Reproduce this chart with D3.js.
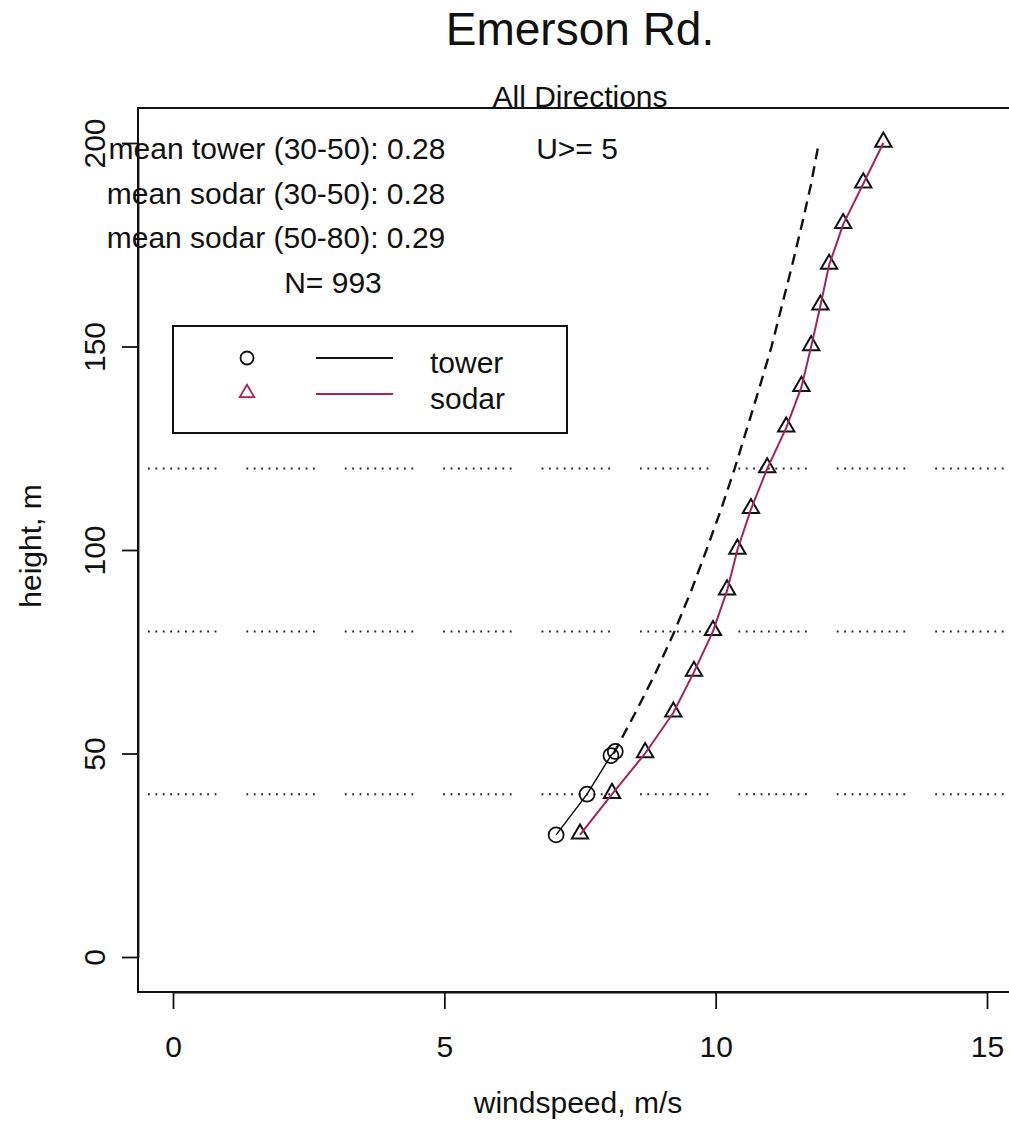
<!DOCTYPE html>
<html>
<head>
<meta charset="utf-8">
<script src="https://cdnjs.cloudflare.com/ajax/libs/d3/7.8.5/d3.min.js"></script>
<style>
  body { margin: 0; background: #fff; }
  text { font-family: "Liberation Sans", Arial, sans-serif; fill: #111; }
</style>
</head>
<body>
<script>
(function () {

// data
var towerHeights = [30, 40, 49.5, 50.5];
var towerSpeeds = [7.06, 7.63, 8.07, 8.15];

// dashed tower extrapolation (50 m -> 200 m)
var fitHeights = [50, 60, 70, 80, 90, 100, 110, 120, 130, 140, 150, 160, 170, 180, 190, 200];
var fitSpeeds = [8.12, 8.52, 8.90, 9.24, 9.55, 9.83, 10.10, 10.35, 10.58, 10.81, 11.03, 11.22, 11.41, 11.59, 11.76, 11.90];

var sodarHeights = [30, 40, 50, 60, 70, 80, 90, 100, 110, 120, 130, 140, 150, 160, 170, 180, 190, 200];
var sodarSpeeds = [7.50, 8.09, 8.70, 9.22, 9.60, 9.95, 10.21, 10.40, 10.65, 10.95, 11.30, 11.58, 11.76, 11.93, 12.09, 12.35, 12.72, 13.09];

var refHeights = [40, 80, 120];
var xTicks = [0, 5, 10, 15];
var yTicks = [0, 50, 100, 150, 200];

var infoLines = ["mean tower (30-50): 0.28", "mean sodar (30-50): 0.28", "mean sodar (50-80): 0.29", "N= 993"];
var legendLabels = ["tower", "sodar"];

var width = 1009;
var height = 1128;
var sodarColor = "#a3245c";

var svg = d3.select("body")
  .append("svg")
    .attr("width", width)
    .attr("height", height);

var x = d3.scaleLinear().domain([0, 15]).range([173, 987]);
var y = d3.scaleLinear().domain([0, 200]).range([957, 143]);

var plotLeft = 138, plotTop = 108, plotBottom = 992, plotRight = 1045;

// titles
svg.append("text")
  .attr("x", 580).attr("y", 45)
  .attr("text-anchor", "middle")
  .style("font-size", "46px")
  .text("Emerson Rd.");

svg.append("text")
  .attr("x", 580).attr("y", 107)
  .attr("text-anchor", "middle")
  .style("font-size", "30px")
  .text("All Directions");

// reference dotted lines
var dots = [];
for (var i = 0; i < 10; i++) { dots.push(1.8, 5.6); }
dots[dots.length - 1] = 30;

svg.selectAll(".ref")
  .data(refHeights)
  .enter()
  .append("line")
    .attr("class", "ref")
    .attr("x1", plotLeft + 10).attr("x2", plotRight)
    .attr("y1", function(d){ return y(d); })
    .attr("y2", function(d){ return y(d); })
    .attr("stroke", "#222")
    .attr("stroke-width", 2)
    .attr("stroke-dasharray", dots.join(","));

// box
svg.append("rect")
  .attr("x", plotLeft).attr("y", plotTop)
  .attr("width", plotRight - plotLeft).attr("height", plotBottom - plotTop)
  .attr("fill", "none")
  .attr("stroke", "#111")
  .attr("stroke-width", 2);

// axes
var xAxis = svg.append("g")
  .attr("transform", "translate(0," + plotBottom + ")")
  .call(d3.axisBottom(x).tickValues(xTicks).tickSize(17).tickSizeOuter(0).tickPadding(27));
xAxis.selectAll("text").style("font-size", "30px").attr("fill", "#111");

var yAxis = svg.append("g")
  .attr("transform", "translate(" + plotLeft + ",0)")
  .call(d3.axisLeft(y).tickValues(yTicks).tickSize(16).tickSizeOuter(0));
yAxis.selectAll("text")
  .attr("x", null).attr("dy", null)
  .attr("text-anchor", "middle")
  .attr("transform", "translate(-33,0) rotate(-90)")
  .style("font-size", "30px")
  .attr("fill", "#111");

[xAxis, yAxis].forEach(function(a){
  a.selectAll("line, path").attr("stroke", "#111").attr("stroke-width", 1.8);
});

svg.append("text")
  .attr("x", 578).attr("y", 1113)
  .attr("text-anchor", "middle")
  .style("font-size", "30px")
  .text("windspeed, m/s");

svg.append("text")
  .attr("transform", "translate(41,546) rotate(-90)")
  .attr("text-anchor", "middle")
  .style("font-size", "30px")
  .text("height, m");

// info text
var infoX = [277, 276, 276, 333];
svg.selectAll(".info")
  .data(infoLines)
  .enter()
  .append("text")
    .attr("class", "info")
    .attr("x", function(d, i){ return infoX[i]; })
    .attr("y", function(d, i){ return 159 + i * 44.6; })
    .attr("text-anchor", "middle")
    .style("font-size", "30px")
    .text(function(d){ return d; });

svg.append("text")
  .attr("x", 577).attr("y", 159)
  .attr("text-anchor", "middle")
  .style("font-size", "30px")
  .text("U>= 5");

// lines
var line = d3.line()
  .x(function(d){ return x(d[0]); })
  .y(function(d){ return y(d[1]); });

var towerData = d3.zip(towerSpeeds, towerHeights);
var fitData = d3.zip(fitSpeeds, fitHeights);
var sodarData = d3.zip(sodarSpeeds, sodarHeights);

svg.append("path")
  .attr("d", line(towerData))
  .attr("fill", "none")
  .attr("stroke", "#111")
  .attr("stroke-width", 1.5);

svg.append("path")
  .attr("d", line(fitData))
  .attr("fill", "none")
  .attr("stroke", "#111")
  .attr("stroke-width", 2.4)
  .attr("stroke-dasharray", "11,7");

// points
svg.selectAll(".tpt")
  .data(towerData)
  .enter()
  .append("circle")
    .attr("class", "tpt")
    .attr("cx", function(d){ return x(d[0]); })
    .attr("cy", function(d){ return y(d[1]); })
    .attr("r", 7.5)
    .attr("fill", "none")
    .attr("stroke", "#111")
    .attr("stroke-width", 1.8);

var tri = d3.symbol().type(d3.symbolTriangle).size(115);

svg.selectAll(".spt")
  .data(sodarData)
  .enter()
  .append("path")
    .attr("class", "spt")
    .attr("d", tri)
    .attr("transform", function(d){ return "translate(" + x(d[0]) + "," + (y(d[1]) - 1) + ")"; })
    .attr("fill", "none")
    .attr("stroke", "#111")
    .attr("stroke-width", 2);

svg.append("path")
  .attr("d", line(sodarData))
  .attr("fill", "none")
  .attr("stroke", sodarColor)
  .attr("stroke-width", 2);

// legend
var legend = svg.append("g");
legend.append("rect")
  .attr("x", 173).attr("y", 326)
  .attr("width", 394).attr("height", 107)
  .attr("fill", "#fff")
  .attr("stroke", "#111")
  .attr("stroke-width", 2);

var legColors = ["#111", sodarColor];
legendLabels.forEach(function(lab, i){
  var ly = 358 + i * 36;
  if (i === 0) {
    legend.append("circle")
      .attr("cx", 247).attr("cy", ly).attr("r", 6.5)
      .attr("fill", "none").attr("stroke", legColors[i]).attr("stroke-width", 1.8);
  } else {
    legend.append("path")
      .attr("d", d3.symbol().type(d3.symbolTriangle).size(90))
      .attr("transform", "translate(247," + (ly - 1) + ")")
      .attr("fill", "none").attr("stroke", legColors[i]).attr("stroke-width", 1.8);
  }
  legend.append("line")
    .attr("x1", 316).attr("x2", 393)
    .attr("y1", ly).attr("y2", ly)
    .attr("stroke", legColors[i]).attr("stroke-width", 1.8);
  legend.append("text")
    .attr("x", 430).attr("y", ly + 15)
    .style("font-size", "30px")
    .text(lab);
});

}());
</script>
</body>
</html>
